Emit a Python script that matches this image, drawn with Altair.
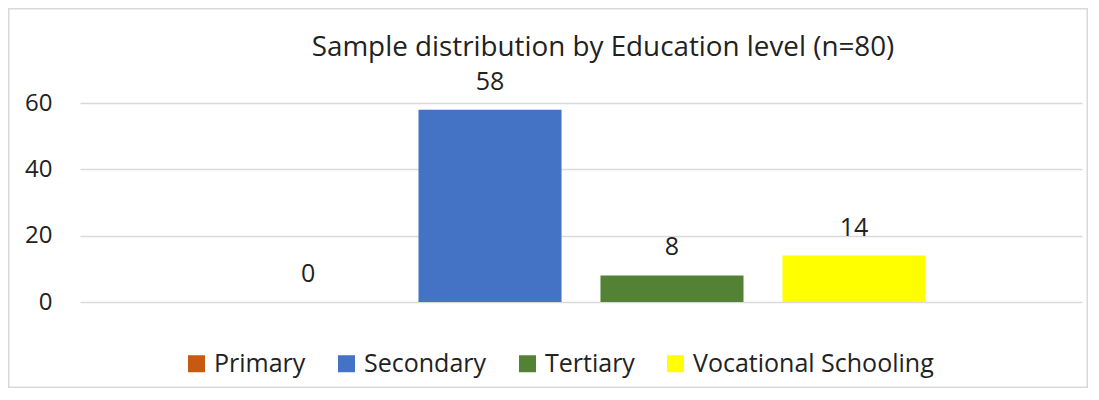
import altair as alt
import pandas as pd

levels = ["Primary", "Secondary", "Tertiary", "Vocational Schooling"]
counts = [0, 58, 8, 14]
colors = ["#C55A11", "#4472C4", "#548235", "#FFFF00"]
y_ticks = [0, 20, 40, 60]
title_text = "Sample distribution by Education level (n=80)"

df = pd.DataFrame({"level": levels, "count": counts})
FONT = "Open Sans"
TXT = "#222222"

W, H = 1002, 199
PL, PT, PR, PB = 72, 95, 6, 86

x_enc = alt.X("level:N", sort=levels,
              scale=alt.Scale(domain=levels, paddingInner=0.214, paddingOuter=0.86),
              axis=None)
y_enc = alt.Y("count:Q", scale=alt.Scale(domain=[0, 60], nice=False, zero=True),
              axis=alt.Axis(values=y_ticks, title=None, domain=False, ticks=False,
                            grid=True, gridColor="#d9d9d9", gridWidth=1.5,
                            labelFont=FONT, labelFontSize=24, labelColor=TXT,
                            labelPadding=28))

base = alt.Chart(df)

bars = base.mark_bar().encode(
    x=x_enc,
    y=y_enc,
    color=alt.Color("level:N", sort=levels,
                    scale=alt.Scale(domain=levels, range=colors),
                    legend=alt.Legend(title=None, orient="none", direction="horizontal",
                                      legendX=104, legendY=248,
                                      symbolType="square", symbolSize=289,
                                      symbolStrokeWidth=0, labelFont=FONT,
                                      labelFontSize=25, labelColor=TXT, labelLimit=500,
                                      labelOffset=5, columnPadding=28)),
)

labels = base.mark_text(font=FONT, fontSize=25, color=TXT, baseline="alphabetic",
                        align="center", dy=-20).encode(
    x=x_enc,
    y=alt.Y("count:Q"),
    text=alt.Text("count:Q"),
)

frame_df = pd.DataFrame({"k": [0]})
frame = alt.Chart(frame_df).mark_rect(filled=False, stroke="#d9d9d9", strokeWidth=1.5).encode(
    x=alt.value(-PL + 0.75),
    x2=alt.value(W + PR - 0.75),
    y=alt.value(-PT + 0.75),
    y2=alt.value(H + PB - 0.75),
)

title_df = pd.DataFrame({"t": [title_text]})
title = alt.Chart(title_df).mark_text(font=FONT, fontSize=27.8, color=TXT,
                                      baseline="alphabetic", align="center").encode(
    x=alt.value(523),
    y=alt.value(-47),
    text="t:N",
)

chart = alt.layer(frame, bars, labels, title).properties(
    width=W, height=H,
    background="white",
    autosize=alt.AutoSizeParams(type="none"),
    padding={"left": PL, "top": PT, "right": PR, "bottom": PB},
).configure_view(stroke="transparent", strokeWidth=0)

chart.save("out.html", embed_options={"renderer": "svg", "actions": False})
